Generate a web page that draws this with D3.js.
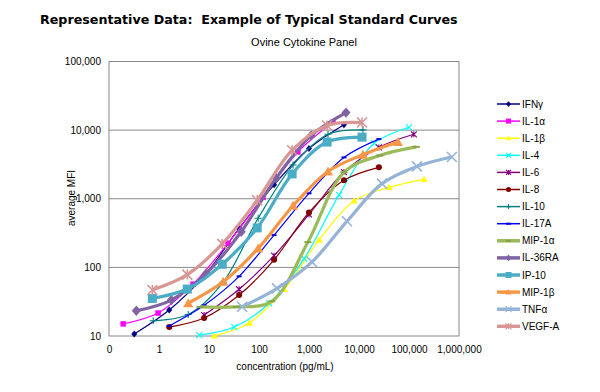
<!DOCTYPE html>
<html><head><meta charset="utf-8">
<script src="https://cdn.jsdelivr.net/npm/d3@7"></script>
<style>body{margin:0;background:#fff}svg{display:block}</style>
</head><body>
<script>
// ---------- DATA ----------
const seriesNames = ["IFNγ","IL-1α","IL-1β","IL-4","IL-6","IL-8","IL-10","IL-17A","MIP-1α","IL-36RA","IP-10","MIP-1β","TNFα","VEGF-A"];

const concIFNg   = [0.32, 1.6, 8, 40, 200, 1000, 5000];
const mfiIFNg    = [10.7, 23.9, 75, 370, 1600, 5400, 12000];
const concIL1a   = [0.192, 0.96, 4.8, 24, 120, 600, 3000];
const mfiIL1a    = [15, 21.6, 57, 225, 1050, 4800, 13000];
const concIL1b   = [12.8, 64, 320, 1600, 8000, 40000, 200000];
const mfiIL1b    = [10.1, 15.5, 48, 252, 935, 1470, 1920];
const concIL4    = [6.4, 32, 160, 800, 4000, 20000, 100000];
const mfiIL4     = [10.3, 13.5, 30, 134, 1140, 6400, 11000];
const concIL6    = [8, 40, 200, 1000, 5000, 25000, 125000];
const mfiIL6     = [20.2, 48, 148, 590, 2450, 5600, 8700];
const concIL8    = [1.6, 8, 40, 200, 1000, 5000, 25000];
const mfiIL8     = [13.5, 18.3, 39.5, 129, 633, 1860, 2870];
const concIL10   = [0.768, 3.84, 19.2, 96, 480, 2400, 12000];
const mfiIL10    = [16.7, 20.6, 61, 520, 3100, 8700, 10100];
const concIL17A  = [1.6, 8, 40, 200, 1000, 5000, 25000];
const mfiIL17A   = [14, 28, 74, 295, 1200, 4000, 7400];
const concMIP1a  = [6.6, 35, 180, 950, 5000, 26000, 140000];
const mfiMIP1a   = [26.5, 26.5, 32, 233, 2430, 4270, 5700];
const concIL36RA = [0.352, 1.76, 8.8, 44, 220, 1100, 5500];
const mfiIL36RA  = [23.3, 33.4, 81.6, 330, 2000, 8300, 18000];
const concIP10   = [0.736, 3.68, 18.4, 92, 460, 2300, 11500];
const mfiIP10    = [35.3, 48.3, 111, 376, 2300, 6700, 7900];
const concMIP1b  = [3.84, 19.2, 96, 480, 2400, 12000, 60000];
const mfiMIP1b   = [30, 61.6, 189, 790, 2500, 4380, 6700];
const concTNFa   = [46, 230, 1150, 5760, 28800, 144000, 720000];
const mfiTNFa    = [26.7, 49.4, 120, 470, 1660, 2960, 4060];
const concVEGFA  = [0.736, 3.68, 18.4, 92, 460, 2300, 11500];
const mfiVEGFA   = [46.8, 78.5, 220, 950, 5100, 11700, 12900];

const xTickValues = [0.1, 1, 10, 100, 1000, 10000, 100000, 1000000];
const xTickLabels = ["0", "1", "10", "100", "1,000", "10,000", "100,000", "1,000,000"];
const yTickValues = [10, 100, 1000, 10000, 100000];
const yTickLabels = ["10", "100", "1,000", "10,000", "100,000"];

// ---------- STYLE ----------
const seriesStyle = [
  {color:"#000080", w:1.2, m:"diamond", s:6},
  {color:"#FF00FF", w:1.2, m:"square",  s:5.5},
  {color:"#FFFF00", w:1.2, m:"triangle",s:7},
  {color:"#00FFFF", w:1.2, m:"x",       s:6},
  {color:"#800080", w:1.2, m:"star",    s:6},
  {color:"#800000", w:1.2, m:"circle",  s:6},
  {color:"#008080", w:1.2, m:"plus",    s:7},
  {color:"#0000FF", w:1.2, m:"dash",    s:5},
  {color:"#9BBB59", w:3.2, m:"dash",    s:7},
  {color:"#8064A2", w:3.2, m:"diamond", s:9},
  {color:"#4BACC6", w:3.2, m:"square",  s:9},
  {color:"#F79646", w:3.2, m:"triangle",s:10},
  {color:"#95B3D7", w:3.2, m:"x",       s:10},
  {color:"#D99694", w:3.2, m:"star",    s:10}
];

const concs = [concIFNg,concIL1a,concIL1b,concIL4,concIL6,concIL8,concIL10,concIL17A,concMIP1a,concIL36RA,concIP10,concMIP1b,concTNFa,concVEGFA];
const mfis  = [mfiIFNg,mfiIL1a,mfiIL1b,mfiIL4,mfiIL6,mfiIL8,mfiIL10,mfiIL17A,mfiMIP1a,mfiIL36RA,mfiIP10,mfiMIP1b,mfiTNFa,mfiVEGFA];
const series = seriesNames.map((n,i)=>({name:n, style:seriesStyle[i],
  pts: concs[i].map((c,j)=>({c:c, v:mfis[i][j]}))}));

// ---------- CHART ----------
const W=600,H=392;
const svg=d3.select("body").append("svg").attr("width",W).attr("height",H)
  .style("font-family","'Liberation Sans', Arial, sans-serif");
svg.append("rect").attr("width",W).attr("height",H).attr("fill","#fff");

const L=109,R=459,T=61.5,B=336;
const x=d3.scaleLog().domain([0.1,1e6]).range([L,R]);
const y=d3.scaleLog().domain([10,1e5]).range([B,T]);

// title
const title=svg.append("text").attr("x",40).attr("y",24)
  .style("font-family","'DejaVu Sans', Verdana, sans-serif").style("font-weight","bold")
  .style("font-size","13px").attr("fill","#000")
  .text("Representative Data:  Example of Typical Standard Curves");
title.attr("xml:space","preserve").style("white-space","pre");
{ const len=title.node().getComputedTextLength(); const target=418;
  title.style("font-size",(13*target/len).toFixed(2)+"px"); }

svg.append("text").attr("x",304).attr("y",46).attr("text-anchor","middle")
  .style("font-size","11px").attr("fill","#000").text("Ovine Cytokine Panel");

// gridlines
svg.append("g").selectAll("line").data([100,1000,10000]).join("line")
  .attr("x1",L).attr("x2",R).attr("y1",d=>y(d)).attr("y2",d=>y(d))
  .attr("stroke","#888").attr("stroke-width",1);
svg.append("rect").attr("x",L).attr("y",T).attr("width",R-L).attr("height",B-T)
  .attr("fill","none").attr("stroke","#888").attr("stroke-width",1);

// axes
const xAxis=d3.axisBottom(x).tickValues(xTickValues)
  .tickFormat((d,i)=>xTickLabels[i]).tickSize(0).tickPadding(0);
const gx=svg.append("g").attr("transform",`translate(0,${B+10})`).call(xAxis);
gx.select(".domain").remove();
gx.selectAll("text").style("font-size","10px").style("font-family","'Liberation Sans', Arial, sans-serif").attr("fill","#000");

const yAxis=d3.axisLeft(y).tickValues(yTickValues)
  .tickFormat((d,i)=>yTickLabels[i]).tickSize(0).tickPadding(0);
const gy=svg.append("g").attr("transform",`translate(${L-8},0)`).call(yAxis);
gy.select(".domain").remove();
gy.selectAll("text").style("font-size","10px").style("font-family","'Liberation Sans', Arial, sans-serif").attr("fill","#000");

svg.append("text").attr("x",285).attr("y",370).attr("text-anchor","middle")
  .style("font-size","10px").attr("fill","#000").text("concentration (pg/mL)");
svg.append("text").attr("transform","translate(75,198) rotate(-90)").attr("text-anchor","middle")
  .style("font-size","10px").attr("fill","#000").text("average MFI");

// marker drawing
function marker(g,type,s,color,cx,cy){
  const h=s/2;
  if(type==="diamond") g.append("path").attr("d",`M${cx},${cy-h*1.15}L${cx+h},${cy}L${cx},${cy+h*1.15}L${cx-h},${cy}Z`).attr("fill",color);
  else if(type==="square") g.append("rect").attr("x",cx-h).attr("y",cy-h).attr("width",s).attr("height",s).attr("fill",color);
  else if(type==="triangle") g.append("path").attr("d",`M${cx},${cy-h}L${cx+h},${cy+h*0.8}L${cx-h},${cy+h*0.8}Z`).attr("fill",color);
  else if(type==="circle") g.append("circle").attr("cx",cx).attr("cy",cy).attr("r",h).attr("fill",color);
  else if(type==="x"||type==="star"){
    const sw=s>8?1.6:1.1;
    g.append("path").attr("d",`M${cx-h},${cy-h}L${cx+h},${cy+h}M${cx-h},${cy+h}L${cx+h},${cy-h}`+(type==="star"?`M${cx},${cy-h}L${cx},${cy+h}`:""))
      .attr("stroke",color).attr("stroke-width",sw).attr("fill","none");
  }
  else if(type==="plus") g.append("path").attr("d",`M${cx-h},${cy}L${cx+h},${cy}M${cx},${cy-h}L${cx},${cy+h}`).attr("stroke",color).attr("stroke-width",1.1);
  else if(type==="dash") g.append("path").attr("d",`M${cx-h},${cy}L${cx+h},${cy}`).attr("stroke",d3.color(color).darker(0.4)).attr("stroke-width",2);
}

const line=d3.line().x(d=>x(d.c)).y(d=>y(d.v)).curve(d3.curveCatmullRom.alpha(0.5));
const plot=svg.append("g");
series.forEach(sr=>{
  const g=plot.append("g");
  g.append("path").datum(sr.pts).attr("d",line).attr("fill","none")
    .attr("stroke",sr.style.color).attr("stroke-width",sr.style.w).attr("stroke-linejoin","round");
  sr.pts.forEach(p=>marker(g,sr.style.m,sr.style.s,sr.style.color,x(p.c),y(p.v)));
});

// legend
const lg=svg.append("g");
series.forEach((sr,i)=>{
  const yy=104+i*17.1;
  const g=lg.append("g");
  g.append("line").attr("x1",497).attr("x2",520).attr("y1",yy).attr("y2",yy)
    .attr("stroke",sr.style.color).attr("stroke-width",sr.style.w>2?3.5:1.5);
  marker(g,sr.style.m,sr.style.s>8?6:5,sr.style.color,508.5,yy);
  g.append("text").attr("x",522).attr("y",yy+3.5).style("font-size","10px").attr("fill","#000").text(sr.name);
});
</script>
</body></html>
